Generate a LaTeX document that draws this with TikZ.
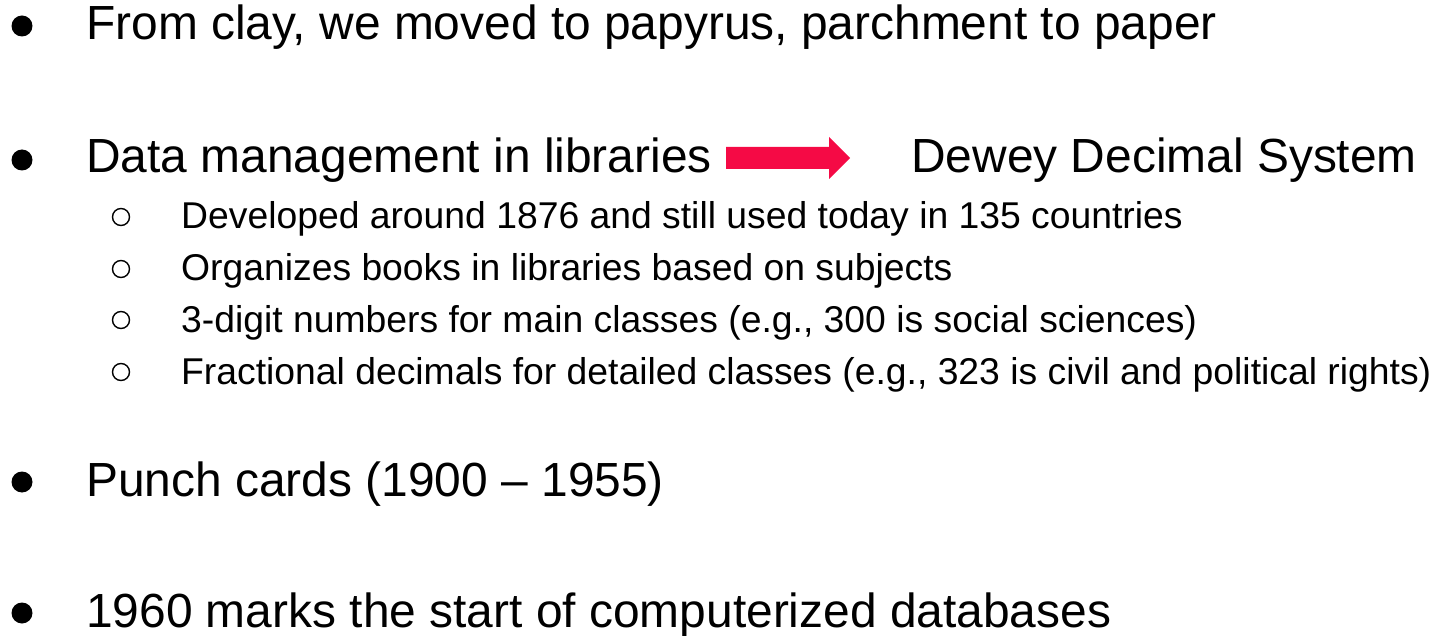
\documentclass[tikz,border=0pt]{standalone}
\usepackage{fontspec}
\setmainfont{Liberation Sans}
\definecolor{arrowred}{HTML}{F50A45}
\tikzset{
  main/.style={anchor=base west, inner sep=0pt, font=\fontsize{47.9}{56}\selectfont},
  sub/.style={anchor=base west, inner sep=0pt, font=\fontsize{37.3}{44}\selectfont},
  dot/.style={fill=black, draw=none},
  ring/.style={draw=black, line width=1.4pt, fill=none},
}
\begin{document}
\begin{tikzpicture}[x=1pt,y=-1pt]
\useasboundingbox (0,0) rectangle (1435,636);

% top-level items
\fill[dot] (22,26) circle (10.5);
\node[main] (clay) at (86,40) {From clay, we moved to papyrus, parchment to paper};

\fill[dot] (22,160) circle (10.5);
\node[main] (data) at (86,173) {Data management in libraries};
\node[main] (dewey) at (911,173) {Dewey Decimal System};

% block arrow between the two phrases
\fill[arrowred] (726,147) -- (829,147) -- (829,137) -- (850,158)
  -- (829,179) -- (829,169) -- (726,169) -- cycle;

% second-level items
\draw[ring] (121,217) circle (8.5);
\node[sub] (s1) at (181,229) {Developed around 1876 and still used today in 135 countries};
\draw[ring] (121,269) circle (8.5);
\node[sub] (s2) at (181,281) {Organizes books in libraries based on subjects};
\draw[ring] (121,320) circle (8.5);
\node[sub] (s3) at (181,332) {3-digit numbers for main classes (e.g., 300 is social sciences)};
\draw[ring] (121,372) circle (8.5);
\node[sub] (s4) at (181,384) {Fractional decimals for detailed classes (e.g., 323 is civil and political rights)};

\fill[dot] (22,482) circle (10.5);
\node[main] (punch) at (86,496) {Punch cards (1900 – 1955)};

\fill[dot] (22,613) circle (10.5);
\node[main] (db) at (86,627) {1960 marks the start of computerized databases};
\end{tikzpicture}
\end{document}
